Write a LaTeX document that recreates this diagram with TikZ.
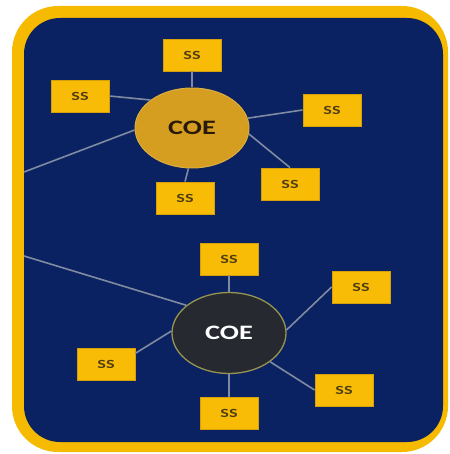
\documentclass[tikz,border=0pt]{standalone}
\usepackage{fontspec}
\setmainfont{Carlito}
\usetikzlibrary{shapes.geometric}
\definecolor{navy}{RGB}{10,34,98}
\definecolor{frame}{RGB}{246,186,0}
\definecolor{boxfill}{RGB}{248,188,6}
\definecolor{boxedge}{RGB}{214,160,10}
\definecolor{goldc}{RGB}{214,158,32}
\definecolor{darkc}{RGB}{38,41,48}
\definecolor{darkedge}{RGB}{150,148,80}
\definecolor{link}{RGB}{128,138,160}
\definecolor{sstext}{RGB}{80,62,20}
\definecolor{coetext}{RGB}{40,25,8}
\tikzset{
  ssbox/.style={rectangle, fill=boxfill, draw=boxedge, line width=0.8pt,
    minimum width=58pt, minimum height=32pt, inner sep=0pt,
    text=sstext, font=\fontsize{12.5}{12.5}\selectfont\bfseries},
  coegold/.style={ellipse, fill=goldc, draw=goldc!85!white, line width=1pt,
    minimum width=114pt, minimum height=80pt, inner sep=0pt,
    text=coetext, font=\fontsize{20.5}{20.5}\selectfont\bfseries},
  coedark/.style={ellipse, fill=darkc, draw=darkedge, line width=1.3pt,
    minimum width=114pt, minimum height=81pt, inner sep=0pt,
    text=white, font=\fontsize{20.5}{20.5}\selectfont\bfseries},
  linkline/.style={draw=link, line width=1.6pt}
}
\newcommand{\sslabel}{\scalebox{1.45}[1]{SS}}
\newcommand{\coelabel}{\scalebox{1.38}[1]{COE}}
\begin{document}
\begin{tikzpicture}[x=1pt,y=-1pt]
\useasboundingbox (0,0) rectangle (449,454);
\fill[frame, rounded corners=46pt] (12,6) rectangle (448,452);
\fill[navy, rounded corners=36pt] (24,18) rectangle (443,442);

% top group
\node[coegold] (c1) at (192,128) {\coelabel};
\node[ssbox] (t1) at (192,55) {\sslabel};
\node[ssbox] (t2) at (80,96) {\sslabel};
\node[ssbox] (t3) at (332,110) {\sslabel};
\node[ssbox] (t4) at (290,184) {\sslabel};
\node[ssbox] (t5) at (185,198) {\sslabel};
\coordinate (e1) at (24,172);

% bottom group
\node[coedark] (c2) at (229,333) {\coelabel};
\node[ssbox] (b1) at (229,259) {\sslabel};
\node[ssbox] (b2) at (361,287) {\sslabel};
\node[ssbox] (b3) at (106,364) {\sslabel};
\node[ssbox] (b4) at (344,390) {\sslabel};
\node[ssbox] (b5) at (229,413) {\sslabel};
\coordinate (e2) at (24,256);

\draw[linkline] (t1.south) -- (c1.north);
\draw[linkline] (t2.east) -- (c1.146);
\draw[linkline] (t3.west) -- (c1.10);
\draw[linkline] (c1.-6) -- (t4.north);
\draw[linkline] (c1.265) -- (t5.north);
\draw[linkline] (e1) -- (c1.182);

\draw[linkline] (b1.south) -- (c2.north);
\draw[linkline] (b2.west) -- (c2.3);
\draw[linkline] (b3.20) -- (c2.178);
\draw[linkline] (c2.-35) -- (b4.west);
\draw[linkline] (c2.south) -- (b5.north);
\draw[linkline] (e2) -- (c2.147);
\end{tikzpicture}
\end{document}
